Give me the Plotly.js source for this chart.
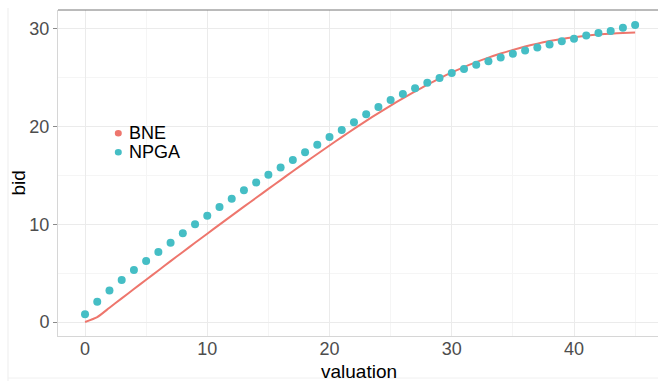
<!DOCTYPE html>
<html><head><meta charset="utf-8">
<script src="https://cdn.plot.ly/plotly-3.0.1.min.js"></script>
<style>html,body{margin:0;padding:0;background:#fff;overflow:hidden}#chart{width:658px;height:381px}</style>
</head><body><div id="chart"></div>
<script>
// ---- data ----
const valuation = [0,1,2,3,4,5,6,7,8,9,10,11,12,13,14,15,16,17,18,19,20,21,22,23,24,25,26,27,28,29,30,31,32,33,34,35,36,37,38,39,40,41,42,43,44,45];
const bneBid = [0,0.5,1.46,2.42,3.38,4.33,5.28,6.23,7.17,8.11,9.04,9.97,10.89,11.81,12.72,13.63,14.53,15.43,16.32,17.2,18.07,18.93,19.77,20.59,21.39,22.16,22.9,23.61,24.29,24.94,25.55,26.1,26.6,27.06,27.48,27.86,28.2,28.5,28.76,28.98,29.16,29.31,29.43,29.52,29.59,29.64];
const npgaBid = [0.79,2.08,3.24,4.3,5.32,6.24,7.16,8.12,9.08,10.0,10.88,11.77,12.62,13.48,14.28,15.08,15.83,16.58,17.38,18.15,18.93,19.65,20.44,21.26,22.0,22.72,23.34,23.92,24.5,24.97,25.49,25.9,26.34,26.7,27.09,27.46,27.8,28.1,28.42,28.73,29.0,29.34,29.58,29.8,30.12,30.4];
const seriesNames = ['BNE', 'NPGA'];
const xTickVals = [0,10,20,30,40];
const yTickVals = [0,10,20,30];
const xTitle = 'valuation';
const yTitle = 'bid';

// ---- styles ----
const colBNE = '#ee766d';
const colNPGA = '#45bec5';
const font = 'Liberation Sans, Arial, Helvetica, sans-serif';

const traces = [
  {x: valuation, y: bneBid, name: seriesNames[0], type: 'scatter', mode: 'lines',
   line: {color: colBNE, width: 2, shape: 'spline', smoothing: 0.6}, showlegend: false},
  {x: valuation, y: npgaBid, name: seriesNames[1], type: 'scatter', mode: 'markers',
   marker: {color: colNPGA, size: 8}, showlegend: false}
];

// figure-pixel helpers (plot area: x 58..658, y 10..336)
const L = 58, T = 10, W = 600, H = 326;
const px = v => (v - L) / W;
const py = v => (T + H - v) / H;

const shapes = [
  {type: 'rect', xref: 'paper', yref: 'paper', x0: px(102), x1: px(187), y0: py(165), y1: py(118),
   fillcolor: '#ffffff', line: {width: 0}, layer: 'between'},
  {type: 'circle', xref: 'paper', yref: 'paper', xsizemode: 'pixel', ysizemode: 'pixel',
   xanchor: px(118.3), yanchor: py(133.3), x0: -3.5, x1: 3.5, y0: -3.2, y1: 3.2,
   fillcolor: colBNE, line: {width: 0}},
  {type: 'circle', xref: 'paper', yref: 'paper', xsizemode: 'pixel', ysizemode: 'pixel',
   xanchor: px(118.3), yanchor: py(152.3), x0: -3.5, x1: 3.5, y0: -3.2, y1: 3.2,
   fillcolor: colNPGA, line: {width: 0}},
  {type: 'line', xref: 'paper', yref: 'paper', x0: 0, x1: 1, y0: 1, y1: 1,
   line: {color: '#767676', width: 1}},
  {type: 'line', xref: 'paper', yref: 'paper', x0: px(8), x1: px(8), y0: py(8), y1: py(381),
   line: {color: '#ededed', width: 1}},
  {type: 'line', xref: 'paper', yref: 'paper', x0: px(8), x1: px(658), y0: py(378), y1: py(378),
   line: {color: '#f0f0f0', width: 1}}
];

const annotations = [
  {xref: 'paper', yref: 'paper', x: px(127), y: py(133.3), xanchor: 'left', yanchor: 'middle',
   text: seriesNames[0], showarrow: false, font: {family: font, size: 18, color: '#000'}},
  {xref: 'paper', yref: 'paper', x: px(127), y: py(152.3), xanchor: 'left', yanchor: 'middle',
   text: seriesNames[1], showarrow: false, font: {family: font, size: 18, color: '#000'}},
  {xref: 'paper', yref: 'paper', x: px(17.5), y: py(183), xanchor: 'center', yanchor: 'middle',
   text: yTitle, textangle: -90, showarrow: false, font: {family: font, size: 19, color: '#000'}},
  {xref: 'paper', yref: 'paper', x: px(359), y: py(371), xanchor: 'center', yanchor: 'middle',
   text: xTitle, showarrow: false, borderpad: 0, borderwidth: 0,
   font: {family: font, size: 19, color: '#000'}}
];

const layout = {
  width: 658, height: 381,
  margin: {l: 58, r: 0, t: 10, b: 45, pad: 0},
  paper_bgcolor: '#ffffff', plot_bgcolor: '#ffffff',
  font: {family: font},
  showlegend: false,
  xaxis: {
    range: [-2.21, 46.87], tickvals: xTickVals, ticktext: xTickVals.map(String),
    showgrid: true, gridcolor: '#ebebeb', gridwidth: 1, zeroline: false,
    minor: {dtick: 5, tick0: 0, showgrid: true, gridcolor: '#f5f5f5', gridwidth: 1},
    showline: true, linecolor: '#d6d6d6', linewidth: 1,
    ticks: '', ticklabelstandoff: -4, tickfont: {family: font, size: 18, color: '#4d4d4d'},
    fixedrange: true
  },
  yaxis: {
    range: [-1.43, 31.94], tickvals: yTickVals, ticktext: yTickVals.map(String),
    showgrid: true, gridcolor: '#ebebeb', gridwidth: 1, zeroline: false,
    minor: {dtick: 5, tick0: 0, showgrid: true, gridcolor: '#f5f5f5', gridwidth: 1},
    showline: true, linecolor: '#d6d6d6', linewidth: 1,
    ticks: 'outside', ticklen: 4, tickcolor: '#8a8a8a', tickwidth: 1,
    tickfont: {family: font, size: 18, color: '#4d4d4d'},
    fixedrange: true
  },
  shapes: shapes,
  annotations: annotations
};

Plotly.newPlot('chart', traces, layout, {displayModeBar: false, staticPlot: true});
</script>
</body></html>
